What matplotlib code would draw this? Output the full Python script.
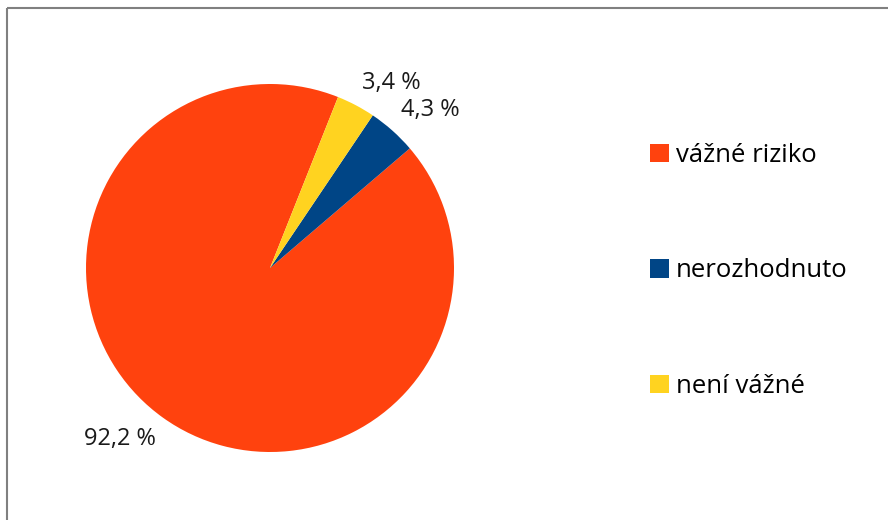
import numpy as np
import matplotlib.pyplot as plt
from matplotlib.lines import Line2D
from matplotlib.patches import Patch

# survey answers and their shares in percent
categories = ['vážné riziko', 'nerozhodnuto', 'není vážné']
shares = [92.2, 4.3, 3.4]
colors = ['#FF420E', '#004586', '#FFD320']

plt.rcParams['font.family'] = ['Open Sans', 'DejaVu Sans']

W, H = 888, 520
fig = plt.figure(figsize=(W / 100, H / 100), dpi=100)
fig.patch.set_facecolor('white')

# pie centred at (270, 268) px with radius 184 px
cx, cy, r = 270, 268, 184
ax = fig.add_axes([(cx - r) / W, (H - cy - r) / H, 2 * r / W, 2 * r / H])

labels = [('%.1f %%' % v).replace('.', ',') for v in shares]
wedges, texts = ax.pie(shares, colors=colors, labels=labels, startangle=68.3,
                       labeldistance=1.07, wedgeprops=dict(linewidth=0),
                       textprops=dict(fontsize=17, color='#1a1a1a'))
# push the value labels a bit further away vertically
for t in texts:
    x, y = t.get_position()
    t.set_position((x, y + 0.06 * np.sign(y)))
ax.set_xlim(-1, 1)
ax.set_ylim(-1, 1)
ax.set_aspect('equal')

handles = [Patch(facecolor=c, edgecolor='none') for c in colors]
fig.legend(handles, categories, loc='upper left', bbox_to_anchor=(650 / W, 1 - 143 / H),
           frameon=False, fontsize=18.5, handlelength=0.74, handleheight=0.74,
           handletextpad=0.27, labelspacing=3.52, borderpad=0, borderaxespad=0)

# frame lines along the left and top edges
fig.add_artist(Line2D([7 / W, 7 / W], [0, 1 - 7.5 / H], color='#808080', linewidth=1.5,
                      transform=fig.transFigure, solid_capstyle='butt'))
fig.add_artist(Line2D([7 / W, 1], [1 - 7.5 / H, 1 - 7.5 / H], color='#808080', linewidth=1.5,
                      transform=fig.transFigure, solid_capstyle='butt'))

fig.savefig('out.png', dpi=100)
